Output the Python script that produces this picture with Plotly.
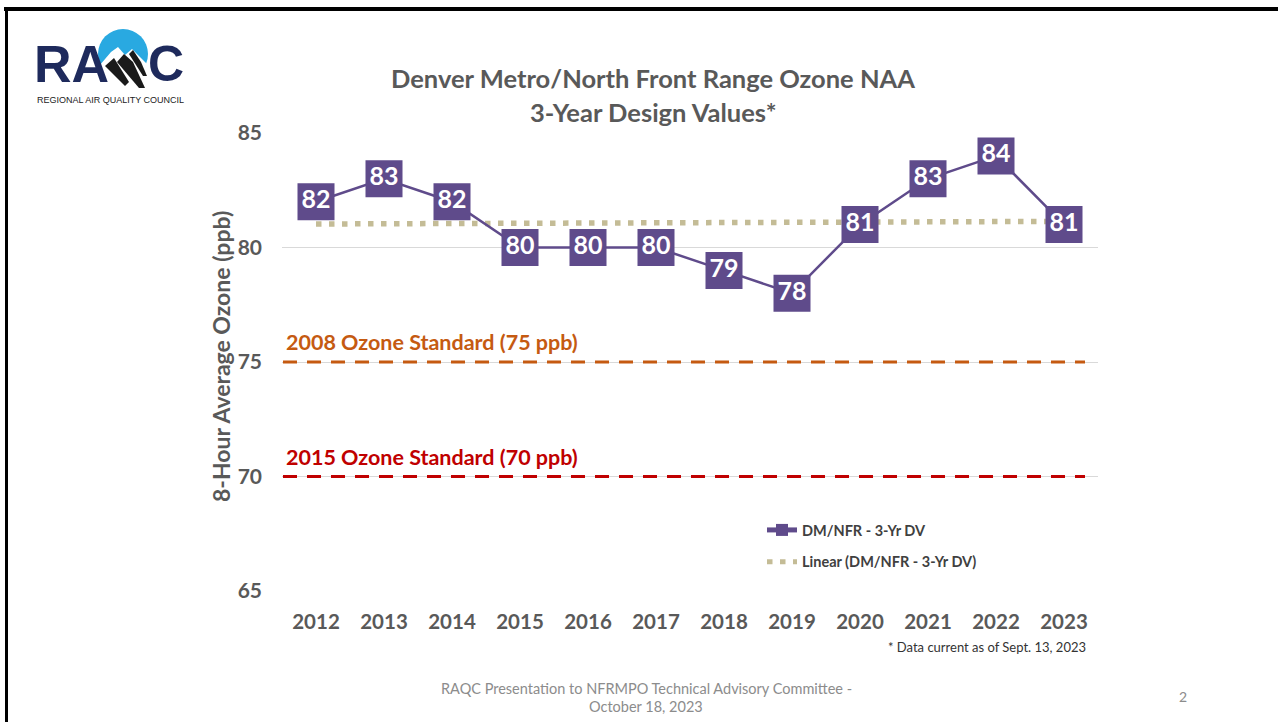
import numpy as np
import plotly.graph_objects as go

# ---------------- data ----------------
years = [2012, 2013, 2014, 2015, 2016, 2017, 2018, 2019, 2020, 2021, 2022, 2023]
design_values = [82, 83, 82, 80, 80, 80, 79, 78, 81, 83, 84, 81]
standard_values = [75, 70]
standard_labels = ["2008 Ozone Standard (75 ppb)", "2015 Ozone Standard (70 ppb)"]
y_ticks = [65, 70, 75, 80, 85]
series_name = "DM/NFR - 3-Yr DV"
trend_name = "Linear (DM/NFR - 3-Yr DV)"

# linear trendline (as Excel computes it) from the design values
idx = np.arange(len(years))
coef = np.polyfit(idx, design_values, 1)
trend_values = list(np.polyval(coef, idx))

# ---------------- layout helpers ----------------
FW, FH = 1278, 722
L, R, T, B = 282, 1098, 133, 591
PW, PH = R - L, B - T


def px(x):
    return (x - L) / PW


def py(y):
    return (B - y) / PH


PURPLE = "#5F4B8B"
TAN = "#C4BC96"
ORANGE = "#C55A11"
RED = "#C00000"
GRAY = "#595959"
FONT = "Lato"

fig = go.Figure()

# trendline (drawn beneath)
fig.add_trace(go.Scatter(
    x=years, y=trend_values, mode="lines", name=trend_name, legendgroup="b",
    legendrank=2,
    line=dict(color=TAN, width=5.5, dash="5.5px,7.5px"),
    hoverinfo="skip",
))

# main series
fig.add_trace(go.Scatter(
    x=years, y=design_values, mode="lines+markers", name=series_name,
    legendgroup="a", legendrank=1,
    line=dict(color=PURPLE, width=2.5),
    marker=dict(symbol="square", size=37, color=PURPLE, line=dict(width=0)),
))

# value labels
fig.add_trace(go.Scatter(
    x=years, y=design_values, mode="text", showlegend=False,
    text=[str(v) for v in design_values], textposition="middle center",
    textfont=dict(family=FONT, size=25, color="white", weight="bold"),
    hoverinfo="skip",
))

shapes = []
annotations = []

# standards lines + labels
for val, lab, col in zip(standard_values, standard_labels, [ORANGE, RED]):
    shapes.append(dict(type="line", xref="paper", yref="y", x0=px(283), x1=px(1085),
                       y0=val, y1=val, line=dict(color=col, width=3, dash="14px,10px"), layer="above"))
    annotations.append(dict(xref="paper", yref="y", x=px(284), y=val, yshift=20,
                            xanchor="left", yanchor="middle", showarrow=False, text=lab,
                            font=dict(family=FONT, size=21.5, color=col, weight="bold")))

# title
annotations.append(dict(xref="paper", yref="paper", x=px(653), y=py(78), showarrow=False,
                        xanchor="center", yanchor="middle",
                        text="Denver Metro/North Front Range Ozone NAA",
                        font=dict(family=FONT, size=25.5, color=GRAY, weight="bold")))
annotations.append(dict(xref="paper", yref="paper", x=px(653), y=py(112), showarrow=False,
                        xanchor="center", yanchor="middle",
                        text="3-Year Design Values*",
                        font=dict(family=FONT, size=25.5, color=GRAY, weight="bold")))

# y axis title
annotations.append(dict(xref="paper", yref="paper", x=px(221), y=py(357), showarrow=False,
                        xanchor="center", yanchor="middle", textangle=-90,
                        text="8-Hour Average Ozone (ppb)",
                        font=dict(family=FONT, size=23, color=GRAY, weight="bold")))

# footnote
annotations.append(dict(xref="paper", yref="paper", x=px(1088), y=py(647), showarrow=False,
                        xanchor="right", yanchor="middle",
                        text="* Data current as of Sept. 13, 2023",
                        font=dict(family=FONT, size=13, color="#333333")))

# footer
annotations.append(dict(xref="paper", yref="paper", x=px(646), y=py(688), showarrow=False,
                        xanchor="center", yanchor="middle",
                        text="RAQC Presentation to NFRMPO Technical Advisory Committee -",
                        font=dict(family=FONT, size=14.5, color="#8C8C8C")))
annotations.append(dict(xref="paper", yref="paper", x=px(646), y=py(706), showarrow=False,
                        xanchor="center", yanchor="middle",
                        text="October 18, 2023",
                        font=dict(family=FONT, size=14.5, color="#8C8C8C")))
annotations.append(dict(xref="paper", yref="paper", x=px(1183), y=py(696), showarrow=False,
                        xanchor="center", yanchor="middle", text="2",
                        font=dict(family=FONT, size=14, color="#8C8C8C")))

# slide border
shapes.append(dict(type="rect", xref="paper", yref="paper", x0=px(4), x1=px(FW + 5),
                   y0=py(7), y1=py(11), fillcolor="black", line=dict(width=0), layer="above"))
shapes.append(dict(type="rect", xref="paper", yref="paper", x0=px(5), x1=px(8),
                   y0=py(FH + 5), y1=py(7), fillcolor="black", line=dict(width=0), layer="above"))

# ---------------- logo ----------------
NAVY = "#1E2A5C"
BLUE = "#29A9E1"
annotations.append(dict(xref="paper", yref="paper", x=px(32), y=py(64), showarrow=False,
                        xanchor="left", yanchor="middle", text="RA",
                        font=dict(family="Liberation Sans", size=52, color=NAVY, weight="bold")))
annotations.append(dict(xref="paper", yref="paper", x=px(146), y=py(64), showarrow=False,
                        xanchor="left", yanchor="middle", text="C",
                        font=dict(family="Liberation Sans", size=50, color=NAVY, weight="bold")))
shapes.append(dict(type="circle", xref="paper", yref="paper", x0=px(98), x1=px(148),
                   y0=py(79), y1=py(29), fillcolor=BLUE, line=dict(width=0), layer="above"))


def pth(pts):
    s = "M " + " L ".join(f"{px(a):.5f},{py(b):.5f}" for a, b in pts) + " Z"
    return s


# white mountain covering lower part of the circle
shapes.append(dict(type="path", xref="paper", yref="paper",
                   path=pth([(94, 72), (111, 52), (118, 47), (125, 55), (132, 49), (151, 68),
                             (151, 90), (94, 90)]),
                   fillcolor="white", line=dict(width=0), layer="above"))
# black ridges
shapes.append(dict(type="path", xref="paper", yref="paper",
                   path=pth([(105, 66), (114, 58), (129, 82), (125, 86)]),
                   fillcolor="#1A1A1A", line=dict(width=0), layer="above"))
shapes.append(dict(type="path", xref="paper", yref="paper",
                   path=pth([(117, 62), (124, 54), (133, 62), (145, 88), (139, 88)]),
                   fillcolor="#1A1A1A", line=dict(width=0), layer="above"))
shapes.append(dict(type="path", xref="paper", yref="paper",
                   path=pth([(129, 54), (133, 50), (141, 62), (147, 76), (143, 76)]),
                   fillcolor="#1A1A1A", line=dict(width=0), layer="above"))
annotations.append(dict(xref="paper", yref="paper", x=px(110), y=py(100), showarrow=False,
                        xanchor="center", yanchor="middle",
                        text="REGIONAL AIR QUALITY COUNCIL",
                        font=dict(family="Liberation Sans", size=9, color="#222222")))

fig.update_layout(
    width=FW, height=FH,
    margin=dict(l=L, r=FW - R, t=T, b=FH - B, pad=0),
    paper_bgcolor="white", plot_bgcolor="white",
    shapes=shapes, annotations=annotations,
    showlegend=True,
    legend=dict(x=px(762), y=py(514), xanchor="left", yanchor="top",
                bgcolor="rgba(0,0,0,0)", borderwidth=0,
                font=dict(family=FONT, size=14.5, color="#404040", weight="bold"),
                itemsizing="constant", tracegroupgap=10, traceorder="grouped"),
    xaxis=dict(type="category", range=[-0.5, len(years) - 0.5], showgrid=False,
               zeroline=False, showline=False, ticks="",
               tickfont=dict(family=FONT, size=20.5, color=GRAY, weight="bold"),
               ticklabelstandoff=16),
    yaxis=dict(range=[65, 85], tickvals=y_ticks, showgrid=True, gridcolor="#D9D9D9",
               gridwidth=1, zeroline=False, showline=False, ticks="",
               tickfont=dict(family=FONT, size=21, color=GRAY, weight="bold"),
               ticklabelstandoff=19),
    hovermode=False,
)

fig.write_html("out.html", config={"displayModeBar": False},
               post_script="document.body.style.margin='0px';document.body.style.overflow='hidden';")
